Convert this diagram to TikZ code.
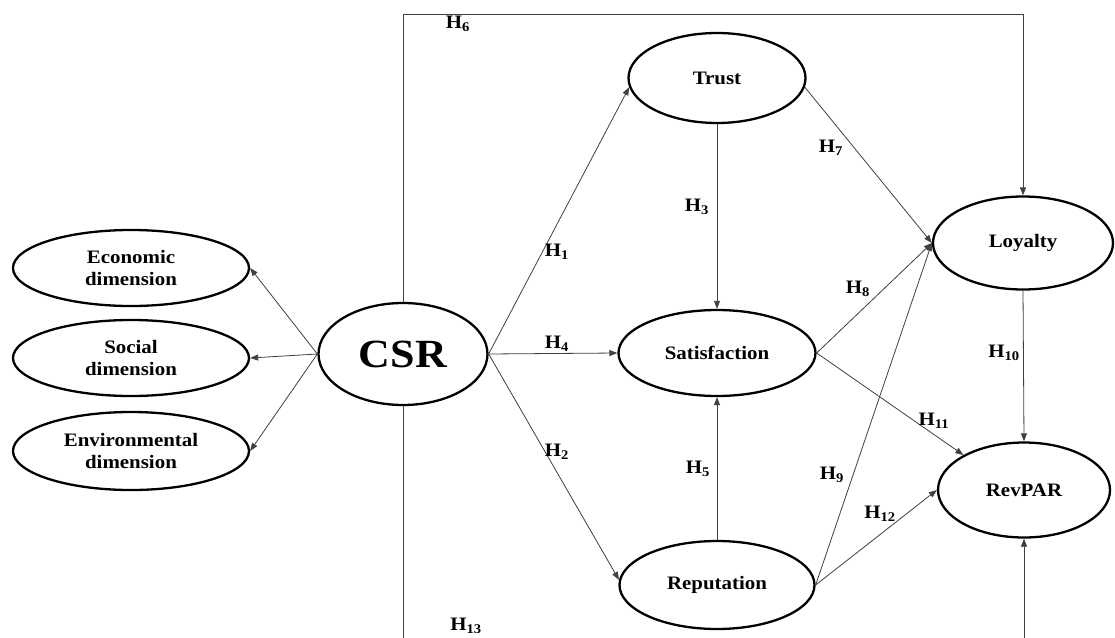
\documentclass[tikz,border=0pt]{standalone}
\usepackage{fontspec}
\setmainfont{Liberation Serif}[FakeStretch=1.1]
\usetikzlibrary{shapes.geometric,arrows.meta}
\begin{document}
\begin{tikzpicture}[x=1pt,y=-1pt,
  lat/.style={ellipse, draw=black, line width=2.3pt, inner sep=0pt, align=center,
    font=\fontsize{19}{22}\selectfont\bfseries},
  conn/.style={draw=black!75, line width=0.8pt, -{Triangle[length=8pt,width=6pt]}},
  hyp/.style={font=\fontsize{19}{22}\selectfont\bfseries, inner sep=0pt}]
\useasboundingbox (0,0) rectangle (1115,637);
\clip (0,0) rectangle (1115,637);
\fill[white] (0,0) rectangle (1115,637);

\node[lat, minimum width=236pt, minimum height=76pt] (eco) at (131,268) {Economic\\dimension};
\node[lat, minimum width=236pt, minimum height=76pt] (soc) at (131,358) {Social\\dimension};
\node[lat, minimum width=236pt, minimum height=78pt] (env) at (131,451) {Environmental\\dimension};
\node[lat, minimum width=169pt, minimum height=102pt, font=\fontsize{40}{44}\selectfont\bfseries] (csr) at (403,354) {CSR};
\node[lat, minimum width=177pt, minimum height=90pt] (trust) at (717,78) {Trust};
\node[lat, minimum width=197pt, minimum height=86pt] (sat) at (717,353) {Satisfaction};
\node[lat, minimum width=195pt, minimum height=88pt] (rep) at (717,585) {Reputation};
\node[lat, minimum width=180pt, minimum height=93pt] (loy) at (1023,243) {Loyalty};
\node[lat, minimum width=172pt, minimum height=95pt] (rev) at (1024,490) {RevPAR};

\coordinate (top) at (0,14);
\coordinate (bot) at (0,660);

\draw[conn] (csr.west) -- (eco.east);
\draw[conn] (csr.west) -- (soc.east);
\draw[conn] (csr.west) -- (env.east);
\draw[conn] (csr.east) -- (trust.186);
\draw[conn] (csr.east) -- (sat.west);
\draw[conn] (csr.east) -- (rep.177);
\draw[conn] (trust.south) -- (sat.north);
\draw[conn] (rep.north) -- (sat.south);
\draw[conn] (trust.354) -- (loy.west);
\draw[conn] (sat.east) -- (loy.west);
\draw[conn] (rep.east) -- (loy.west);
\draw[conn] (sat.east) -- (rev.150);
\draw[conn] (rep.east) -- (rev.west);
\draw[conn] (loy.south) -- (rev.north);
\draw[conn] (csr.north) -- (csr.north |- top) -| (loy.north);
\draw[conn] (csr.south) -- (csr.south |- bot) -| (rev.south);

\node[hyp] (h6) at (458,24) {H\textsubscript{6}};
\node[hyp] (h1) at (557,252) {H\textsubscript{1}};
\node[hyp] (h4) at (557,344) {H\textsubscript{4}};
\node[hyp] (h2) at (557,452) {H\textsubscript{2}};
\node[hyp] (h3) at (697,207) {H\textsubscript{3}};
\node[hyp] (h5) at (698,469) {H\textsubscript{5}};
\node[hyp] (h7) at (831,148) {H\textsubscript{7}};
\node[hyp] (h8) at (858,289) {H\textsubscript{8}};
\node[hyp] (h10) at (1004,353) {H\textsubscript{10}};
\node[hyp] (h11) at (934,421) {H\textsubscript{11}};
\node[hyp] (h9) at (832,475) {H\textsubscript{9}};
\node[hyp] (h12) at (880,514) {H\textsubscript{12}};
\node[hyp] (h13) at (466,626) {H\textsubscript{13}};
\end{tikzpicture}
\end{document}
